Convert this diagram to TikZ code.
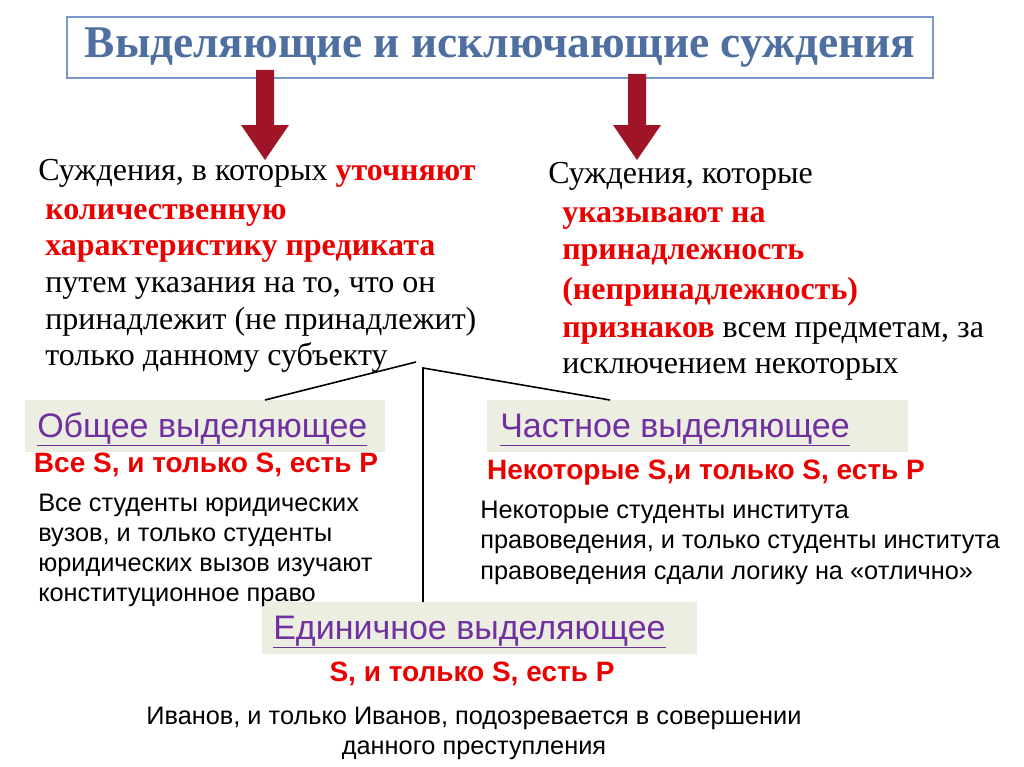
\documentclass[tikz,border=0pt]{standalone}
\usepackage{fontspec}
\setmainfont{Liberation Serif}
\setsansfont{Liberation Sans}
\definecolor{tblue}{RGB}{79,111,160}
\definecolor{bblue}{RGB}{120,150,200}
\definecolor{tred}{RGB}{235,0,0}
\definecolor{dred}{RGB}{160,20,40}
\definecolor{purp}{RGB}{112,48,160}
\definecolor{gbox}{RGB}{236,238,226}
\begin{document}
\begin{tikzpicture}[x=0.75pt,y=-0.75pt,
  ser/.style={anchor=base west,inner sep=0,font=\fontsize{24}{26}\selectfont},
  serr/.style={anchor=base west,inner sep=0,text=tred,font=\bfseries\fontsize{24}{26}\selectfont},
  sans/.style={anchor=base west,inner sep=0,font=\sffamily\fontsize{19}{22}\selectfont},
  redb/.style={anchor=base,inner sep=0,text=tred,font=\sffamily\bfseries\fontsize{21}{24}\selectfont},
  lab/.style={anchor=base west,inner sep=0,text=purp,font=\sffamily\fontsize{25.5}{28}\selectfont},
  gray/.style={fill=gbox,draw=none},
  conn/.style={draw=black,line width=1.2pt},
  bigarrow/.style={fill=dred,draw=none}]
\useasboundingbox (0,0) rectangle (1024,767);
\fill[white] (0,0) rectangle (1024,767);
% title
\node[draw=bblue,line width=1.2pt,minimum width=866*0.75pt,minimum height=61*0.75pt,inner sep=0,
  text=tblue,font=\bfseries\fontsize{34}{36}\selectfont] (title) at (500,47.5) {Выделяющие и исключающие суждения};
% arrows
\fill[bigarrow] (256,70) -- (274,70) -- (274,125) -- (289,125) -- (265,160) -- (241,125) -- (256,125) -- cycle;
\fill[bigarrow] (628,74) -- (646,74) -- (646,125) -- (661,125) -- (637,160) -- (613,125) -- (628,125) -- cycle;
% left text
\node[ser] (l1) at (38,180) {Суждения, в которых \textcolor{tred}{\bfseries уточняют}};
\node[serr] (l2) at (45,219) {количественную};
\node[serr] (l3) at (45,255) {характеристику предиката};
\node[ser] (l4) at (45,292) {путем указания на то, что он};
\node[ser] (l5) at (45,329) {принадлежит (не принадлежит)};
\node[ser] (l6) at (45,365) {только данному субъекту};
% right text
\node[ser] (r1) at (548,183) {Суждения, которые};
\node[serr] (r2) at (562,222) {указывают на};
\node[serr] (r3) at (562,259) {принадлежность};
\node[serr] (r4) at (562,299) {(непринадлежность)};
\node[ser] (r5) at (562,337) {\textcolor{tred}{\bfseries признаков} всем предметам, за};
\node[ser] (r6) at (562,373) {исключением некоторых};
% boxes
\fill[gray] (25,400) rectangle (385,452);
\fill[gray] (487,400) rectangle (908,452);
\fill[gray] (262,602) rectangle (697,654);
\node[lab] (b1) at (37,437) {\underline{Общее выделяющее}};
\node[lab] (b2) at (500,437) {\underline{Частное выделяющее}};
\node[lab] (b3) at (273,639) {\underline{Единичное выделяющее}};
% connectors
\coordinate (j1) at (416,362);
\coordinate (j2) at (423,368);
\coordinate (e1) at (265,400);
\coordinate (e2) at (610,400);
\coordinate (e3) at (423,602);
\draw[conn] (j1) -- (e1);
\draw[conn] (e3) -- (j2) -- (e2);
% formulas
\node[redb] (f1) at (206,472) {Все S, и только S, есть P};
\node[redb] (f2) at (706,479) {Некоторые S,и только S, есть P};
\node[redb] (f3) at (472,681) {S, и только S, есть P};
% examples
\node[sans] (x1) at (38,511) {Все студенты юридических};
\node[sans] (x2) at (38,541) {вузов, и только студенты};
\node[sans] (x3) at (38,571) {юридических вызов изучают};
\node[sans] (x4) at (38,601) {конституционное право};
\node[sans] (y1) at (480,518) {Некоторые студенты института};
\node[sans] (y2) at (480,548) {правоведения, и только студенты института};
\node[sans] (y3) at (480,579) {правоведения сдали логику на «отлично»};
\node[sans,anchor=base] (z1) at (474,724) {Иванов, и только Иванов, подозревается в совершении};
\node[sans,anchor=base] (z2) at (474,754) {данного преступления};
\end{tikzpicture}
\end{document}
